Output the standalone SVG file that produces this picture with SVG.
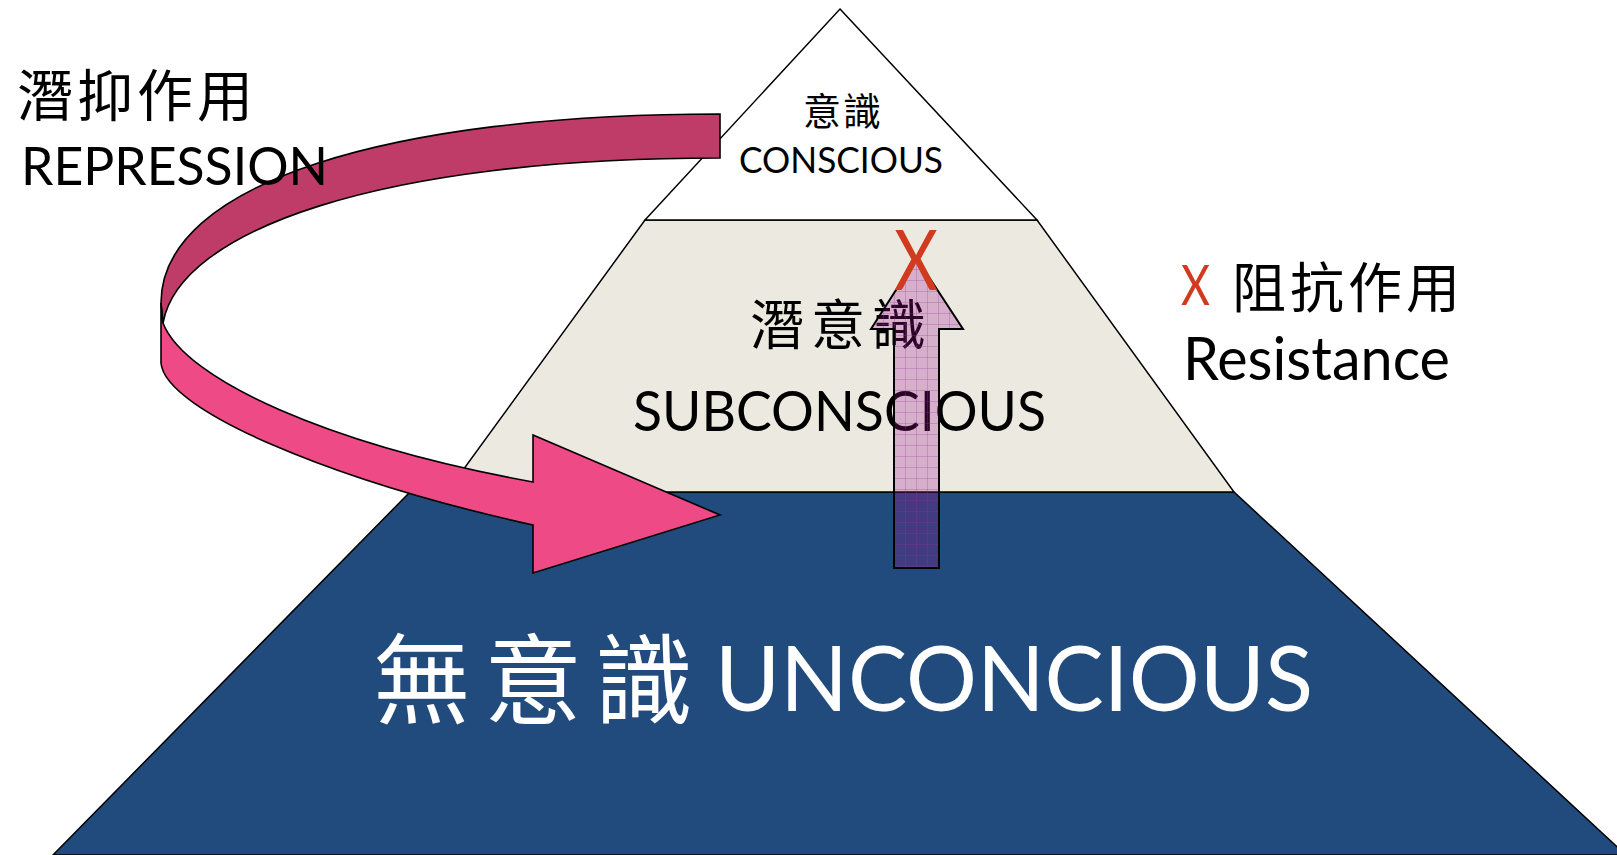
<svg xmlns="http://www.w3.org/2000/svg" width="1617" height="855" viewBox="0 0 1617 855">
<style>
.lat{font-family:Lato,"Liberation Sans",sans-serif}
.cjk{font-family:"Noto Sans CJK TC","Noto Sans CJK SC",sans-serif}
.edge{stroke:#000;stroke-width:1.5;stroke-linejoin:miter}
</style>
<defs>
<pattern id="grid" patternUnits="userSpaceOnUse" width="11" height="11" x="894" y="258">
<rect width="11" height="11" fill="#9a1090" fill-opacity="0.27"/>
<path d="M0,0.5H11M0.5,0V11" stroke="#a030a0" stroke-opacity="0.35" stroke-width="0.8" fill="none"/>
</pattern>
</defs>
<rect width="1617" height="855" fill="#fff"/>
<g id="unconscious">
<polygon class="edge" points="410,492 1234,492 1626,855 53,855" fill="#224B7D"/>
<text class="cjk" font-size="98" fill="#fff" y="716"><tspan x="373">無</tspan><tspan x="484">意</tspan><tspan x="595">識</tspan></text>
<text class="lat" font-size="92" fill="#fff" x="715" y="711" textLength="598" lengthAdjust="spacingAndGlyphs">UNCONCIOUS</text>
</g>
<g id="subconscious">
<polygon class="edge" points="645,220 1037,220 1234,492 447,492" fill="#ECEAE0"/>
<text class="cjk" font-size="54" fill="#000" y="345"><tspan x="750">潛</tspan><tspan x="811">意</tspan><tspan x="872">識</tspan></text>
<text class="lat" font-size="57" fill="#000" x="633" y="431" textLength="413" lengthAdjust="spacingAndGlyphs">SUBCONSCIOUS</text>
</g>
<g id="conscious">
<polygon class="edge" points="840,9 1037,220 645,220" fill="#fff"/>
<text class="cjk" font-size="38" fill="#000" y="125"><tspan x="803">意</tspan><tspan x="843">識</tspan></text>
<text class="lat" font-size="36" fill="#000" x="739" y="173" textLength="204" lengthAdjust="spacingAndGlyphs">CONSCIOUS</text>
</g>
<g id="connectors">
<path id="resistance-arrow" d="M894,568 L894,329 L871,329 L916.5,258 L963,329 L939,329 L939,568 Z" fill="url(#grid)" stroke="#000" stroke-width="2"/>
<text class="lat" font-size="84" fill="#D03A1E" x="894" y="290" textLength="44" lengthAdjust="spacingAndGlyphs">X</text>
<g id="repression-arrow" stroke="#000" stroke-width="1.6" stroke-linejoin="miter">
<path d="M720,114 L720,158 C380,158 180,230 163,323 L161,303 C161,183 390,114 720,114 Z" fill="#BF3C69"/>
<path d="M161,303 L163,323 C185,380 330,445 533,482 L533,435 L720,515 L533,573 L533,525 C330,480 165,410 161,363 Z" fill="#EE4A85"/>
</g>
</g>
<g id="repression-label">
<text class="cjk" font-size="56" fill="#000" y="116"><tspan x="17">潛</tspan><tspan x="77">抑</tspan><tspan x="137">作</tspan><tspan x="197">用</tspan></text>
<text class="lat" font-size="53" fill="#000" x="21" y="185" textLength="307" lengthAdjust="spacingAndGlyphs">REPRESSION</text>
</g>
<g id="resistance-label">
<text class="lat" font-size="56" fill="#D03A1E" x="1181" y="305" textLength="29" lengthAdjust="spacingAndGlyphs">X</text>
<text class="cjk" font-size="54" fill="#000" y="308"><tspan x="1232">阻</tspan><tspan x="1290">抗</tspan><tspan x="1348">作</tspan><tspan x="1406">用</tspan></text>
<text class="lat" font-size="60" fill="#000" x="1183" y="380" textLength="267" lengthAdjust="spacingAndGlyphs">Resistance</text>
</g>
</svg>
